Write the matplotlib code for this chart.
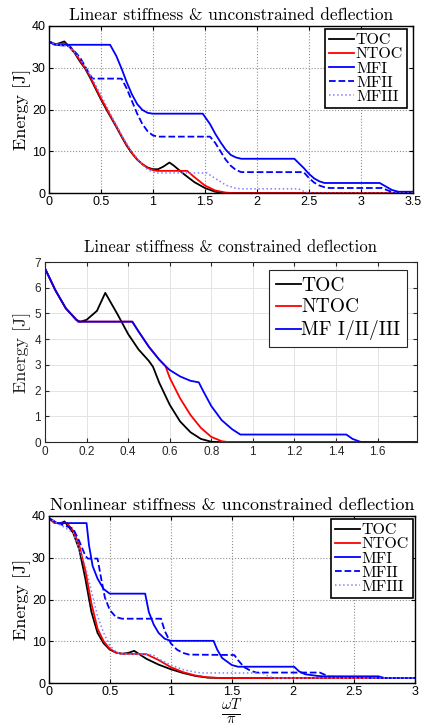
import matplotlib
matplotlib.use('Agg')
import matplotlib.pyplot as plt

plt.rcParams['mathtext.fontset'] = 'cm'
plt.rcParams['axes.unicode_minus'] = False

SERIF = 'cmr10'
SANS = 'Liberation Sans'

# ---- panel 1: linear stiffness & unconstrained deflection ----
p1_toc_x = [0, 0.07, 0.15, 0.2, 0.25, 0.3, 0.35, 0.4, 0.45, 0.5, 0.55, 0.6, 0.65, 0.7, 0.75, 0.8,
            0.85, 0.9, 0.95, 1.0, 1.05, 1.1, 1.16, 1.2, 1.3, 1.4, 1.5, 1.6, 1.68, 3.5]
p1_toc_y = [36.3, 35.6, 36.3, 35.0, 33.5, 31.5, 29.8, 27.5, 25.0, 22.5, 20.2, 18.0, 15.8, 13.5, 11.3, 9.5,
            8.0, 6.9, 6.1, 5.7, 5.7, 6.3, 7.3, 6.6, 4.5, 2.6, 1.2, 0.3, 0.0, 0.0]
p1_ntoc_x = [0, 0.07, 0.15, 0.2, 0.25, 0.3, 0.35, 0.4, 0.45, 0.5, 0.55, 0.6, 0.65, 0.7, 0.75, 0.8,
             0.85, 0.9, 0.95, 1.0, 1.04, 1.33, 1.4, 1.5, 1.6, 1.7, 1.76, 3.5]
p1_ntoc_y = [36.3, 35.6, 35.8, 35.2, 33.7, 31.8, 30.0, 27.8, 25.3, 22.8, 20.5, 18.2, 16.0, 13.7, 11.5, 9.6,
             8.1, 6.9, 6.0, 5.5, 5.3, 5.3, 3.8, 1.8, 0.6, 0.1, 0.0, 0.0]
p1_mf1_x = [0, 0.06, 0.59, 0.65, 0.7, 0.75, 0.8, 0.85, 0.9, 0.95, 1.0, 1.48, 1.55, 1.6, 1.65, 1.7,
            1.75, 1.8, 1.85, 2.36, 2.45, 2.5, 2.55, 2.6, 2.65, 3.18, 3.25, 3.3, 3.36, 3.5]
p1_mf1_y = [36.3, 35.5, 35.5, 32.8, 29.8, 26.5, 23.6, 21.3, 19.9, 19.2, 19.0, 19.0, 16.5, 14.2, 12.2, 10.4,
            9.1, 8.5, 8.2, 8.2, 6.0, 4.6, 3.5, 2.8, 2.4, 2.4, 1.4, 0.7, 0.3, 0.3]
p1_mf2_x = [0, 0.06, 0.2, 0.3, 0.38, 0.42, 0.7, 0.75, 0.8, 0.85, 0.9, 0.95, 1.0, 1.05, 1.55, 1.6,
            1.65, 1.7, 1.75, 1.8, 1.85, 2.45, 2.5, 2.55, 2.6, 2.66, 2.7, 3.2, 3.27, 3.35, 3.5]
p1_mf2_y = [36.3, 35.5, 35.2, 32.5, 29.0, 27.4, 27.4, 25.0, 22.0, 19.0, 16.5, 14.8, 13.8, 13.5, 13.5, 12.0,
            10.0, 8.0, 6.5, 5.5, 5.0, 5.0, 3.6, 2.5, 1.8, 1.3, 1.2, 1.2, 0.5, 0.0, 0.0]
p1_mf3_x = [0, 0.07, 0.2, 0.3, 0.4, 0.5, 0.6, 0.7, 0.8, 0.9, 0.95, 1.0, 1.05, 1.52, 1.6, 1.7,
            1.8, 1.85, 2.4, 2.45, 2.5, 3.5]
p1_mf3_y = [36.3, 35.6, 35.0, 32.2, 28.3, 23.6, 18.6, 13.9, 9.8, 6.8, 5.6, 5.0, 4.8, 4.8, 3.5, 1.9,
            1.1, 1.0, 1.0, 0.4, 0.0, 0.0]

# ---- panel 2: linear stiffness & constrained deflection ----
p2_toc_x = [0, 0.05, 0.1, 0.15, 0.17, 0.2, 0.25, 0.29, 0.35, 0.4, 0.45, 0.5, 0.52, 0.55, 0.6, 0.65,
            0.7, 0.75, 0.8, 0.83, 1.79]
p2_toc_y = [6.75, 5.9, 5.2, 4.75, 4.68, 4.75, 5.1, 5.8, 4.95, 4.2, 3.6, 3.15, 2.92, 2.3, 1.45, 0.8,
            0.38, 0.12, 0.01, 0.0, 0.0]
p2_ntoc_x = [0, 0.05, 0.1, 0.16, 0.42, 0.45, 0.5, 0.55, 0.58, 0.6, 0.65, 0.7, 0.75, 0.8, 0.85, 0.88, 1.79]
p2_ntoc_y = [6.75, 5.9, 5.2, 4.68, 4.68, 4.3, 3.7, 3.2, 2.95, 2.5, 1.7, 1.05, 0.55, 0.2, 0.03, 0.0, 0.0]
p2_mf_x = [0, 0.05, 0.1, 0.16, 0.42, 0.45, 0.5, 0.55, 0.58, 0.6, 0.65, 0.7, 0.74, 0.76, 0.8, 0.85,
           0.9, 0.94, 1.45, 1.48, 1.52, 1.79]
p2_mf_y = [6.75, 5.9, 5.2, 4.68, 4.68, 4.3, 3.7, 3.2, 2.95, 2.8, 2.55, 2.38, 2.32, 2.0, 1.4, 0.85,
           0.5, 0.29, 0.29, 0.12, 0.0, 0.0]

# ---- panel 3: nonlinear stiffness & unconstrained deflection ----
p3_toc_x = [0, 0.05, 0.1, 0.13, 0.2, 0.25, 0.3, 0.35, 0.4, 0.45, 0.5, 0.55, 0.6, 0.65, 0.7, 0.8,
            0.9, 1.0, 1.1, 1.2, 1.3, 1.4, 3.0]
p3_toc_y = [39.5, 38.3, 38.3, 38.7, 36.0, 32.0, 25.0, 17.0, 12.0, 9.5, 8.0, 7.3, 7.0, 7.2, 7.7, 5.8,
            4.4, 3.3, 2.4, 1.7, 1.3, 1.2, 1.2]
p3_ntoc_x = [0, 0.05, 0.1, 0.15, 0.2, 0.25, 0.3, 0.35, 0.4, 0.45, 0.5, 0.55, 0.6, 0.8, 0.9, 1.0,
             1.1, 1.2, 1.3, 1.4, 3.0]
p3_ntoc_y = [39.5, 38.3, 38.3, 38.3, 36.5, 33.0, 27.0, 19.0, 13.0, 10.0, 8.2, 7.3, 7.0, 6.9, 5.5, 3.8,
             2.6, 1.8, 1.35, 1.2, 1.2]
p3_mf1_x = [0, 0.07, 0.31, 0.33, 0.36, 0.4, 0.45, 0.5, 0.79, 0.82, 0.86, 0.9, 0.95, 1.0, 1.35, 1.38,
            1.42, 1.5, 1.55, 2.01, 2.05, 2.1, 2.2, 2.25, 2.7, 2.75, 3.0]
p3_mf1_y = [39.5, 38.3, 38.3, 33.0, 28.0, 25.0, 22.5, 21.4, 21.4, 17.0, 14.0, 12.0, 10.6, 10.1, 10.1, 8.0,
            6.0, 4.3, 3.9, 3.9, 2.8, 2.1, 1.7, 1.6, 1.6, 1.2, 1.2]
p3_mf2_x = [0, 0.07, 0.2, 0.25, 0.3, 0.32, 0.4, 0.43, 0.46, 0.5, 0.55, 0.6, 0.92, 0.95, 1.0, 1.05,
            1.1, 1.15, 1.52, 1.55, 1.6, 1.65, 1.7, 2.22, 2.3, 2.6, 2.65, 3.0]
p3_mf2_y = [39.5, 38.3, 37.0, 34.0, 30.5, 29.8, 29.8, 25.0, 20.5, 17.5, 15.8, 15.4, 15.4, 12.5, 9.5, 8.0,
            7.2, 6.8, 6.7, 5.5, 3.8, 3.0, 2.5, 2.5, 1.5, 1.4, 1.2, 1.2]
p3_mf3_x = [0, 0.07, 0.2, 0.3, 0.35, 0.4, 0.45, 0.5, 0.55, 0.6, 0.85, 0.9, 1.0, 1.1, 1.2, 1.25,
            1.75, 1.8, 1.85, 3.0]
p3_mf3_y = [39.5, 38.3, 36.0, 28.0, 22.0, 16.0, 12.0, 9.0, 7.5, 6.9, 6.8, 5.8, 4.3, 3.2, 2.6, 2.4,
            2.4, 1.6, 1.2, 1.2]

FIG_W, FIG_H = 421, 727


def place(fig, l, r, t, b):
    # pixel box -> figure fraction
    return fig.add_axes([l / FIG_W, 1 - b / FIG_H, (r - l) / FIG_W, (b - t) / FIG_H])


def style_old(ax, xticks, yticks):
    ax.set_xticks(xticks)
    ax.set_yticks(yticks)
    ax.grid(True, linestyle=':', color='#909090', linewidth=0.8)
    ax.tick_params(direction='in', top=True, right=True, length=3, labelsize=9, pad=2)
    for s in ax.spines.values():
        s.set_linewidth(1.0)
    for lab in ax.get_xticklabels() + ax.get_yticklabels():
        lab.set_family(SANS)


def old_legend(ax, anchor):
    leg = ax.legend(loc='upper right', bbox_to_anchor=anchor, borderaxespad=0,
                    prop={'family': SERIF, 'size': 11.5}, fancybox=False, edgecolor='black',
                    framealpha=1, handlelength=1.6, handletextpad=0.1, labelspacing=0.0,
                    borderpad=0.25)
    leg.get_frame().set_linewidth(1.2)
    return leg


fig = plt.figure(figsize=(FIG_W / 100, FIG_H / 100), dpi=100)

# panel 1
ax1 = place(fig, 48.7, 413, 26, 193)
ax1.plot(p1_toc_x, p1_toc_y, color='black', lw=1.3, label='TOC')
ax1.plot(p1_ntoc_x, p1_ntoc_y, color='red', lw=1.3, label='NTOC')
ax1.plot(p1_mf1_x, p1_mf1_y, color='blue', lw=1.3, label='MFI')
ax1.plot(p1_mf2_x, p1_mf2_y, color='blue', lw=1.3, ls='--', label='MFII')
ax1.plot(p1_mf3_x, p1_mf3_y, color='#8080ff', lw=1.1, ls=':', label='MFIII')
ax1.set_xlim(0, 3.5)
ax1.set_ylim(0, 40)
style_old(ax1, [0, 0.5, 1, 1.5, 2, 2.5, 3, 3.5], [0, 10, 20, 30, 40])
ax1.set_xticklabels(['0', '0.5', '1', '1.5', '2', '2.5', '3', '3.5'])
ax1.set_title('Linear stiffness & unconstrained deflection', family=SERIF, fontsize=12.5, pad=4)
ax1.set_ylabel('Energy [J]', family=SERIF, fontsize=13, labelpad=1)
old_legend(ax1, (0.984, 0.982))

# panel 2
ax2 = place(fig, 45, 417, 262, 442)
ax2.plot(p2_toc_x, p2_toc_y, color='black', lw=1.3, label='TOC')
ax2.plot(p2_ntoc_x, p2_ntoc_y, color='red', lw=1.3, label='NTOC')
ax2.plot(p2_mf_x, p2_mf_y, color='blue', lw=1.3, label='MF I/II/III')
ax2.set_xlim(0, 1.79)
ax2.set_ylim(0, 7)
ax2.set_xticks([0, 0.2, 0.4, 0.6, 0.8, 1, 1.2, 1.4, 1.6])
ax2.set_xticklabels(['0', '0.2', '0.4', '0.6', '0.8', '1', '1.2', '1.4', '1.6'])
ax2.set_yticks(range(8))
ax2.grid(True, color='#e3e3e3', linewidth=0.7)
ax2.set_axisbelow(True)
ax2.tick_params(direction='in', top=True, right=True, length=3, labelsize=8.5, pad=3,
                colors='#262626')
for s in ax2.spines.values():
    s.set_linewidth(0.8)
    s.set_color('#262626')
for lab in ax2.get_xticklabels() + ax2.get_yticklabels():
    lab.set_family(SANS)
ax2.set_title('Linear stiffness & constrained deflection', family=SERIF, fontsize=12, pad=7)
ax2.set_ylabel('Energy [J]', family=SERIF, fontsize=13, labelpad=2, color='#262626')
leg = ax2.legend(loc='upper right', bbox_to_anchor=(0.973, 0.956), borderaxespad=0,
                 prop={'family': SERIF, 'size': 14}, fancybox=False, edgecolor='#262626',
                 framealpha=1, handlelength=1.3, handletextpad=0.0, labelspacing=0.2,
                 borderpad=0.35)
leg.get_frame().set_linewidth(0.8)

# panel 3
ax3 = place(fig, 48.7, 415, 516, 683)
ax3.plot(p3_toc_x, p3_toc_y, color='black', lw=1.3, label='TOC')
ax3.plot(p3_ntoc_x, p3_ntoc_y, color='red', lw=1.3, label='NTOC')
ax3.plot(p3_mf1_x, p3_mf1_y, color='blue', lw=1.3, label='MFI')
ax3.plot(p3_mf2_x, p3_mf2_y, color='blue', lw=1.3, ls='--', label='MFII')
ax3.plot(p3_mf3_x, p3_mf3_y, color='#8080ff', lw=1.1, ls=':', label='MFIII')
ax3.set_xlim(0, 3)
ax3.set_ylim(0, 40)
style_old(ax3, [0, 0.5, 1, 1.5, 2, 2.5, 3], [0, 10, 20, 30, 40])
ax3.set_xticklabels(['0', '0.5', '1', '1.5', '2', '2.5', '3'])
ax3.set_title('Nonlinear stiffness & unconstrained deflection', family=SERIF, fontsize=13, pad=4)
ax3.set_ylabel('Energy [J]', family=SERIF, fontsize=13, labelpad=1)
ax3.set_xlabel(r'$\frac{\omega T}{\pi}$', fontsize=15, labelpad=0)
old_legend(ax3, (0.9945, 0.982))

fig.savefig('out.png', dpi=100)
